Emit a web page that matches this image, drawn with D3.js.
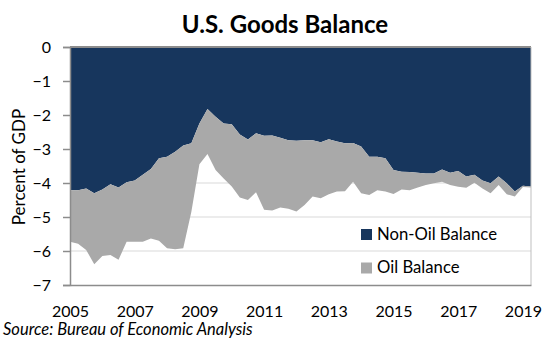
<!DOCTYPE html>
<html>
<head>
<meta charset="utf-8">
<script src="https://cdn.jsdelivr.net/npm/d3@7"></script>
<style>
  body { margin: 0; background: #fff; }
  text { font-family: Lato, "Open Sans", sans-serif; fill: #000; }
</style>
</head>
<body>
<div id="chart"></div>
<script>
// quarterly, 2005Q1 .. 2019Q2, percent of GDP
let quarters = d3.range(58).map(i => 2005 + i / 4);

let nonOil = [-4.21, -4.21, -4.16, -4.30, -4.19, -4.04, -4.13, -3.98, -3.93, -3.76,
              -3.59, -3.27, -3.23, -3.08, -2.90, -2.83, -2.25, -1.82, -2.05, -2.25,
              -2.27, -2.57, -2.72, -2.54, -2.61, -2.60, -2.67, -2.74, -2.76, -2.74,
              -2.74, -2.80, -2.71, -2.78, -2.83, -2.82, -2.93, -3.23, -3.23, -3.27,
              -3.62, -3.67, -3.68, -3.70, -3.72, -3.72, -3.60, -3.70, -3.65, -3.81,
              -3.76, -3.93, -4.01, -3.81, -4.01, -4.25, -4.08, -4.10];

let oil = [-1.52, -1.58, -1.81, -2.09, -1.96, -2.08, -2.13, -1.75, -1.80, -1.97,
           -2.04, -2.43, -2.69, -2.87, -3.02, -2.02, -1.20, -1.33, -1.57, -1.62,
           -1.83, -1.86, -1.78, -1.73, -2.18, -2.21, -2.05, -2.02, -2.08, -1.91,
           -1.66, -1.65, -1.62, -1.47, -1.41, -1.14, -1.37, -1.12, -0.98, -0.98,
           -0.70, -0.52, -0.53, -0.43, -0.34, -0.29, -0.36, -0.36, -0.46, -0.33,
           -0.23, -0.23, -0.29, -0.25, -0.32, -0.15, -0.04, -0.03];

let yTicks = [0, -1, -2, -3, -4, -5, -6, -7];
let xTicks = [2005, 2007, 2009, 2011, 2013, 2015, 2017, 2019];
let seriesNames = ["Non-Oil Balance", "Oil Balance"];
let colors = ["#17365d", "#a9a9a9"];

let width = 549, height = 352;
const plot = {left: 70, right: 531, top: 47, bottom: 285};

let svg = d3.select("#chart").append("svg")
    .attr("width", width)
    .attr("height", height);

let x = d3.scaleLinear()
    .domain([2005, 2019.25])
    .range([plot.left, plot.right]);

let y = d3.scaleLinear()
    .domain([-7, 0])
    .range([plot.bottom, plot.top]);

// gridlines
svg.append("g")
    .selectAll("line")
    .data(yTicks.filter(d => d < 0 && d > -7))
    .enter().append("line")
    .attr("x1", plot.left).attr("x2", plot.right)
    .attr("y1", d => y(d)).attr("y2", d => y(d))
    .attr("stroke", "#d9d9d9")
    .attr("stroke-width", 1);

let table = quarters.map((q, i) => ({q: q, nonOil: nonOil[i], oil: oil[i]}));
let stacked = d3.stack()
    .keys(["nonOil", "oil"])
    .offset(d3.stackOffsetDiverging)(table);

let area = d3.area()
    .x(d => x(d.data.q))
    .y0(d => y(d[0]))
    .y1(d => y(d[1]));

svg.append("g")
    .selectAll("path")
    .data(stacked)
    .enter().append("path")
    .attr("d", area)
    .attr("fill", (d, i) => colors[i]);

// plot frame
svg.append("line")
    .attr("x1", plot.left).attr("x2", plot.right)
    .attr("y1", plot.top).attr("y2", plot.top)
    .attr("stroke", "#8c8c8c").attr("stroke-width", 2);
svg.append("line")
    .attr("x1", plot.right).attr("x2", plot.right)
    .attr("y1", plot.top).attr("y2", plot.bottom)
    .attr("stroke", "#bfbfbf").attr("stroke-width", 1);

// y axis
let yAxis = svg.append("g")
    .attr("transform", `translate(${plot.left},0)`)
    .call(d3.axisLeft(y).tickValues(yTicks).tickSize(7).tickPadding(12).tickFormat(d3.format("d")));
yAxis.select(".domain").attr("stroke", "#8c8c8c").attr("stroke-width", 1.5);
yAxis.selectAll(".tick line").attr("stroke", "#8c8c8c").attr("stroke-width", 1.5);
yAxis.selectAll(".tick text").style("font-size", "16px").attr("fill", "#000");

// x axis
let xAxis = svg.append("g")
    .attr("transform", `translate(0,${plot.bottom})`)
    .call(d3.axisBottom(x).tickValues(xTicks).tickSize(0).tickPadding(21).tickFormat(d3.format("d")));
xAxis.select(".domain").attr("stroke", "#8c8c8c").attr("stroke-width", 1.5);
xAxis.selectAll(".tick text").style("font-size", "16px").attr("fill", "#000");

svg.append("text")
    .attr("transform", "translate(25,167) rotate(-90)")
    .style("text-anchor", "middle")
    .style("font-size", "17px")
    .text("Percent of GDP");

svg.append("text")
    .attr("x", 285).attr("y", 33)
    .style("text-anchor", "middle")
    .style("font-size", "24px")
    .style("font-weight", "bold")
    .text("U.S. Goods Balance");

// legend
let legend = svg.append("g")
    .selectAll("g")
    .data(seriesNames)
    .enter().append("g")
    .attr("transform", (d, i) => `translate(361,${229 + i * 33.5})`);
legend.append("rect")
    .attr("width", 11).attr("height", 11)
    .attr("fill", (d, i) => colors[i]);
legend.append("text")
    .attr("x", 16).attr("y", 10.5)
    .style("font-size", "16.7px")
    .text(d => d);

svg.append("text")
    .attr("x", 3).attr("y", 335)
    .style("font-size", "16.5px")
    .style("font-style", "italic")
    .text("Source: Bureau of Economic Analysis");
</script>
</body>
</html>
